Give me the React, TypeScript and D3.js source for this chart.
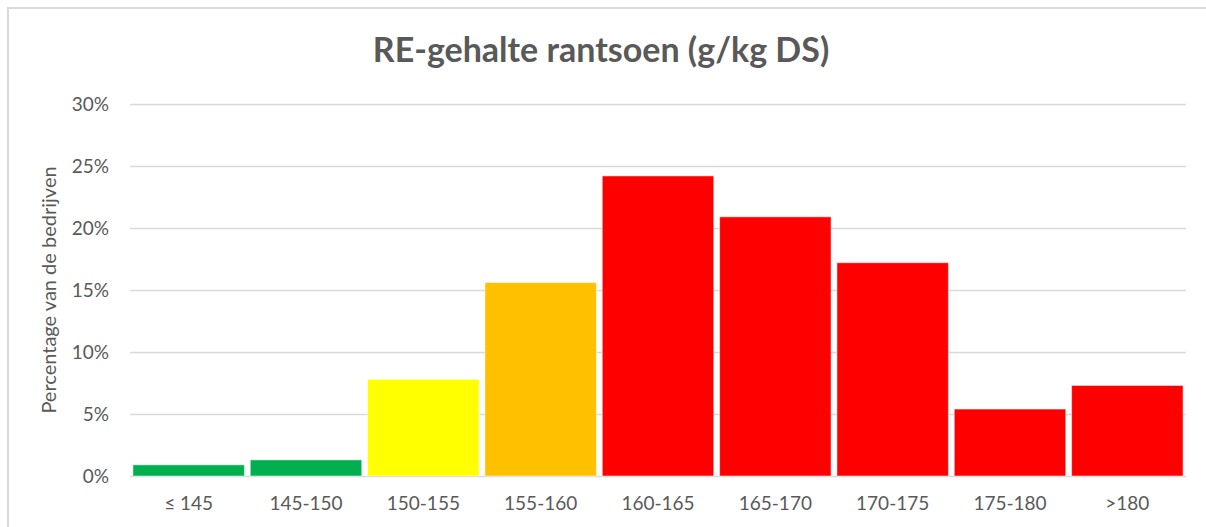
import React, { useEffect, useRef } from "react";
import * as d3 from "d3";

// data
const categories = ["≤ 145", "145-150", "150-155", "155-160", "160-165", "165-170", "170-175", "175-180", ">180"];
const percentages = [0.9, 1.3, 7.8, 15.6, 24.2, 20.9, 17.2, 5.4, 7.3];
const barColors = ["#00B050", "#00B050", "#FFFF00", "#FFC000", "#FF0000", "#FF0000", "#FF0000", "#FF0000", "#FF0000"];
const yTicks = [0, 5, 10, 15, 20, 25, 30];

const title = "RE-gehalte rantsoen (g/kg DS)";
const yTitle = "Percentage van de bedrijven";

const App = () => {
  const ref = useRef<SVGSVGElement>(null);

  useEffect(() => {
    drawChart();
  }, []);

  const drawChart = () => {
    const width = 1206;
    const height = 527;
    const margin = { top: 104, left: 130, bottom: 51, right: 20 };
    const font = "Lato, 'Open Sans', sans-serif";

    const svg = d3.select(ref.current).attr("width", width).attr("height", height);
    svg.selectAll("*").remove();

    svg.append("rect").attr("width", width).attr("height", height).attr("fill", "#ffffff");

    // chart area border (only top and left visible in the crop)
    svg
      .append("path")
      .attr("d", `M8,${height} L8,8 L${width},8`)
      .attr("fill", "none")
      .attr("stroke", "#d9d9d9")
      .attr("stroke-width", 2);

    const x = d3
      .scaleBand()
      .domain(categories)
      .range([margin.left, width - margin.right])
      .paddingInner(0.05)
      .paddingOuter(0.025);

    const y = d3
      .scaleLinear()
      .domain([0, 30])
      .range([height - margin.bottom, margin.top]);

    // grid + y labels
    const yAxis = (g) =>
      g
        .attr("transform", `translate(${margin.left}, 0)`)
        .call(
          d3
            .axisLeft(y)
            .tickValues(yTicks)
            .tickSize(-(width - margin.left - margin.right))
            .tickPadding(21)
            .tickFormat((d) => d + "%")
        )
        .call((g) => g.select(".domain").remove())
        .call((g) => g.selectAll(".tick line").attr("stroke", "#d9d9d9").attr("stroke-width", 1.5))
        .call((g) =>
          g
            .selectAll(".tick text")
            .attr("fill", "#595959")
            .attr("font-size", "19px")
            .attr("font-family", font)
        );

    svg.append("g").call(yAxis);

    // bars
    svg
      .append("g")
      .selectAll("rect")
      .data(percentages)
      .enter()
      .append("rect")
      .attr("x", (d, i) => x(categories[i]))
      .attr("y", (d) => y(d))
      .attr("width", x.bandwidth())
      .attr("height", (d) => y(0) - y(d))
      .attr("fill", (d, i) => barColors[i])
      .attr("stroke", "#ffffff")
      .attr("stroke-opacity", 0.5)
      .attr("stroke-width", 1);

    // x labels
    const xAxis = (g) =>
      g
        .attr("transform", `translate(0, ${height - margin.bottom})`)
        .call(d3.axisBottom(x).tickSize(0).tickPadding(21))
        .call((g) => g.select(".domain").remove())
        .call((g) =>
          g
            .selectAll(".tick text")
            .attr("fill", "#595959")
            .attr("font-size", "19px")
            .attr("font-family", font)
        );

    svg.append("g").call(xAxis);

    // title
    svg
      .append("text")
      .attr("x", 601)
      .attr("y", 62)
      .attr("text-anchor", "middle")
      .attr("fill", "#595959")
      .attr("font-size", "34px")
      .attr("font-weight", "bold")
      .attr("font-family", font)
      .text(title);

    // y axis title
    svg
      .append("text")
      .attr("transform", `translate(56, 290) rotate(-90)`)
      .attr("text-anchor", "middle")
      .attr("fill", "#595959")
      .attr("font-size", "20px")
      .attr("font-family", font)
      .text(yTitle);
  };

  return (
    <svg
      ref={ref}
      style={{ position: "absolute", left: 0, top: 0, display: "block" }}
    ></svg>
  );
};

export default App;
